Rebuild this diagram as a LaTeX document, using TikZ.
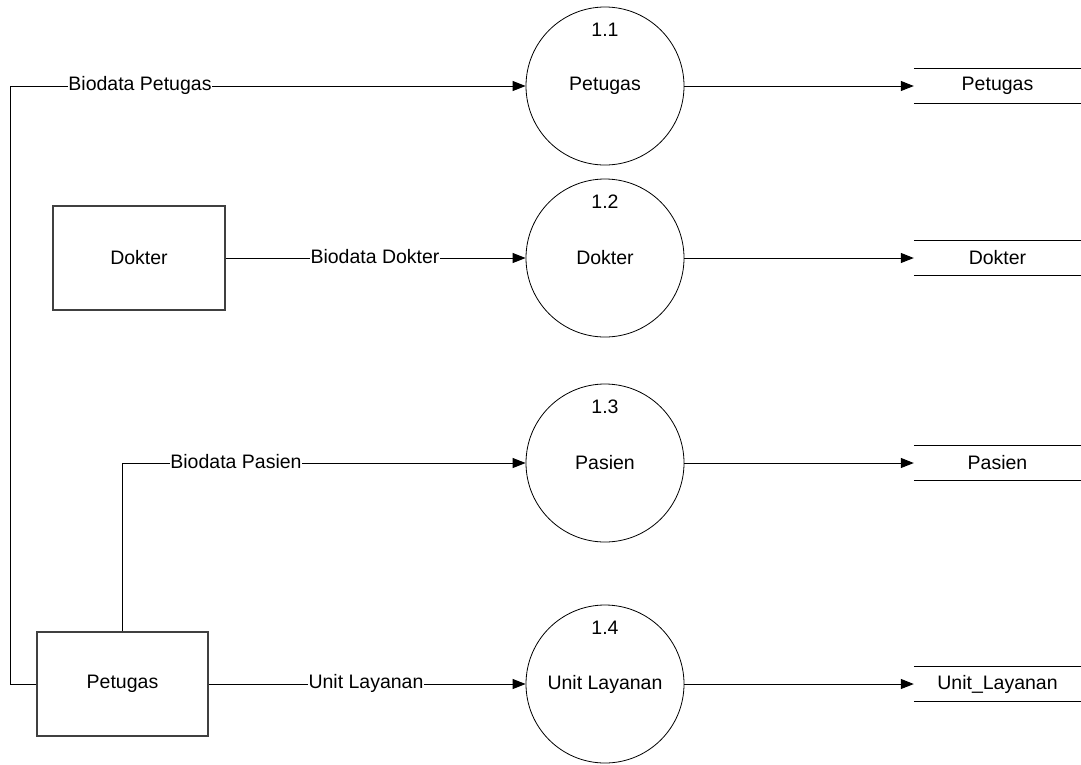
\documentclass[tikz,border=0pt]{standalone}
\usepackage{fontspec}
\setmainfont{Liberation Sans}
\usetikzlibrary{arrows.meta}
\begin{document}
\begin{tikzpicture}[x=1pt,y=-1pt,
  every node/.style={font=\fontsize{19.5}{23}\selectfont},
  proc/.style={circle,draw,line width=0.8pt,minimum size=158pt,inner sep=0pt},
  ent/.style={rectangle,draw=black!75,line width=1.3pt,inner sep=0pt},
  store/.style={inner sep=0pt,minimum width=167pt,minimum height=34pt},
  flow/.style={line width=1pt,-{Triangle[length=13pt,width=10pt]}},
  plain/.style={line width=1pt},
  lbl/.style={fill=white,inner xsep=0.5pt,inner ysep=1pt},
  num/.style={inner sep=0pt}]
\useasboundingbox (0,0) rectangle (1081,764);
% processes
\node[proc] (p1) at (605,86) {Petugas};
\node[proc] (p2) at (605,258) {Dokter};
\node[proc] (p3) at (605,463) {Pasien};
\node[proc] (p4) at (605,684) {Unit Layanan};
\node[num] (n1) at ([yshift=56pt]p1.center) {1.1};
\node[num] (n2) at ([yshift=56pt]p2.center) {1.2};
\node[num] (n3) at ([yshift=56pt]p3.center) {1.3};
\node[num] (n4) at ([yshift=56pt]p4.center) {1.4};
% entities
\node[ent,minimum width=172pt,minimum height=104pt] (dk) at (139,258) {Dokter};
\node[ent,minimum width=171pt,minimum height=104pt] (pb) at (122.5,684) {Petugas};
% stores
\node[store] (s1) at (997.5,86) {Petugas};
\node[store] (s2) at (997.5,258) {Dokter};
\node[store] (s3) at (997.5,463) {Pasien};
\node[store] (s4) at (997.5,684) {Unit\_Layanan};
\foreach \s in {s1,s2,s3,s4}{
  \draw[plain] (\s.north west) -- (\s.north east);
  \draw[plain] (\s.south west) -- (\s.south east);
}
% flows to stores
\draw[flow] (p1.east) -- (s1.west);
\draw[flow] (p2.east) -- (s2.west);
\draw[flow] (p3.east) -- (s3.west);
\draw[flow] (p4.east) -- (s4.west);
% flows from entities
\coordinate (c1) at (10,684);
\draw[flow] (pb.west) -- (c1) |- (p1.west);
\node[lbl] (l1) at (140,85) {Biodata Petugas};
\draw[flow] (dk.east) -- (p2.west);
\node[lbl] (l2) at (375,257) {Biodata Dokter};
\draw[flow] (pb.north) |- (p3.west);
\node[lbl] (l3) at (236,462) {Biodata Pasien};
\draw[flow] (pb.east) -- (p4.west);
\node[lbl] (l4) at (366,683) {Unit Layanan};
\end{tikzpicture}
\end{document}
